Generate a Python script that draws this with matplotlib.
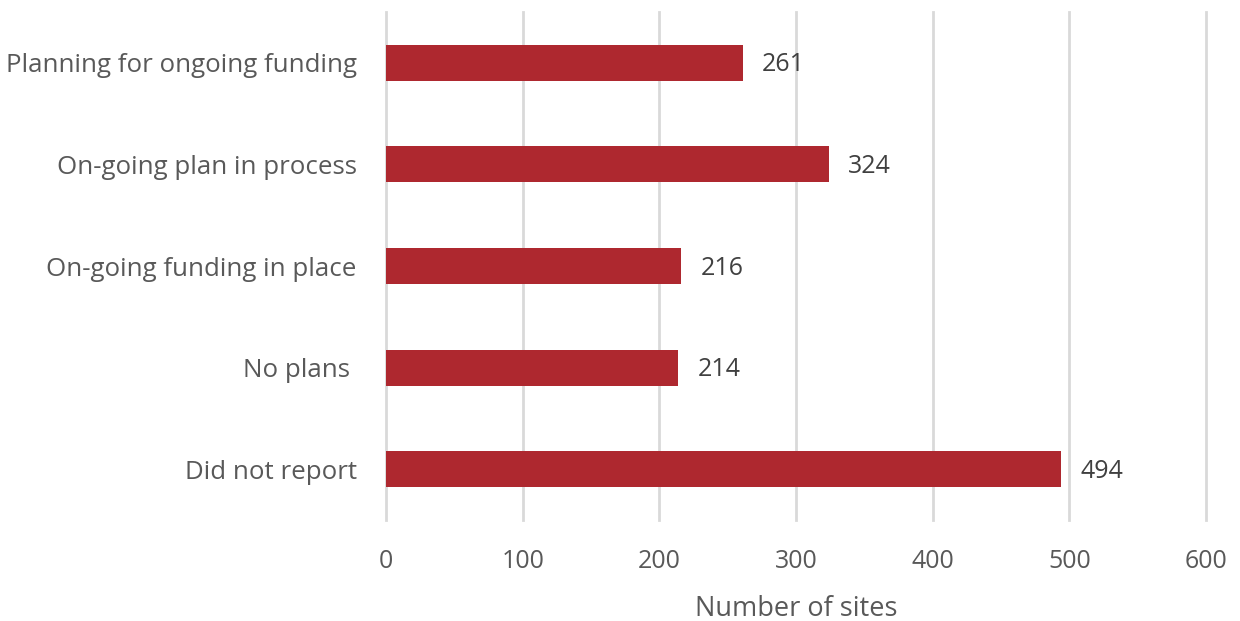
import matplotlib.pyplot as plt

categories = ['Did not report', 'No plans ', 'On-going funding in place',
              'On-going plan in process', 'Planning for ongoing funding']
sites = [494, 214, 216, 324, 261]
xticks = [0, 100, 200, 300, 400, 500, 600]

plt.rcParams['font.family'] = ['Open Sans', 'DejaVu Sans']

fig = plt.figure(figsize=(12.4, 6.21), dpi=100)
ax = fig.add_axes([386 / 1240, 101 / 621, 820 / 1240, 508 / 621])

bars = ax.barh(range(len(categories)), sites, height=0.355, color='#AE282F', zorder=3)
for bar, v in zip(bars, sites):
    ax.text(bar.get_width() + 14, bar.get_y() + bar.get_height() / 2 - 0.02, str(v),
            va='center', ha='left', fontsize=18, color='#404040')

ax.set_xlim(0, 600)
ax.set_ylim(-0.5, len(categories) - 0.5)
ax.set_xticks(xticks)
ax.set_yticks(range(len(categories)))
ax.set_yticklabels(categories)
ax.tick_params(axis='both', length=0, labelsize=18, colors='#595959')
ax.tick_params(axis='y', labelsize=18.6, pad=21)
ax.tick_params(axis='x', pad=21)
ax.grid(axis='x', color='#D9D9D9', linewidth=2, zorder=0)
# keep the edge gridlines at full width
for gl in ax.get_xgridlines():
    gl.set_clip_on(False)
for s in ax.spines.values():
    s.set_visible(False)
ax.set_xlabel('Number of sites', fontsize=19.5, color='#595959', labelpad=15)

fig.savefig('out.png', dpi=100)
